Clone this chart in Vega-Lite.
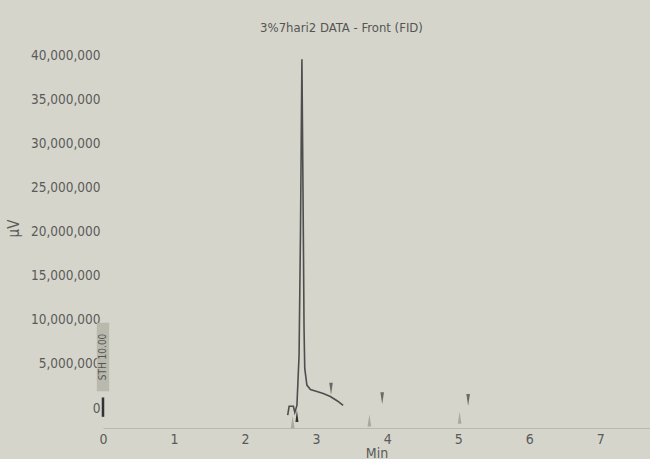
{
  "$schema": "https://vega.github.io/schema/vega-lite/v6.json",
  "autosize": {"type": "none"},
  "width": 547,
  "height": 388,
  "padding": {"left": 103, "top": 40, "right": 0, "bottom": 31},
  "background": "#d5d5cb",
  "config": {
    "view": {"stroke": null},
    "font": "DejaVu Sans Condensed, sans-serif",
    "axis": {"grid": false, "labelColor": "#5a5a5a", "titleColor": "#5a5a5a", "titleFontWeight": "normal"}
  },
  "title": {"text": "3%7hari2 DATA - Front (FID)", "fontSize": 13, "fontWeight": "normal", "color": "#555555", "dx": -35, "offset": 5},
  "datasets": {
    "trace": [
      {"t": 2.60, "v": -800000},
      {"t": 2.62, "v": 200000},
      {"t": 2.68, "v": 200000},
      {"t": 2.70, "v": -500000},
      {"t": 2.73, "v": 300000},
      {"t": 2.76, "v": 6000000},
      {"t": 2.78, "v": 20000000},
      {"t": 2.79, "v": 30000000},
      {"t": 2.80, "v": 39600000},
      {"t": 2.81, "v": 30000000},
      {"t": 2.82, "v": 20000000},
      {"t": 2.83, "v": 9000000},
      {"t": 2.84, "v": 4500000},
      {"t": 2.87, "v": 2600000},
      {"t": 2.92, "v": 2100000},
      {"t": 3.00, "v": 1900000},
      {"t": 3.10, "v": 1650000},
      {"t": 3.20, "v": 1300000},
      {"t": 3.30, "v": 800000},
      {"t": 3.38, "v": 300000}
    ],
    "marks": [
      {"t": 3.21, "v": 2200000, "kind": "end"},
      {"t": 3.93, "v": 1100000, "kind": "end"},
      {"t": 5.14, "v": 900000, "kind": "end"},
      {"t": 2.73, "v": -900000, "kind": "startdark"},
      {"t": 2.67, "v": -1600000, "kind": "start"},
      {"t": 3.75, "v": -1400000, "kind": "start"},
      {"t": 5.02, "v": -1100000, "kind": "start"}
    ],
    "sth": [{"t": 0, "v": 5800000, "label": "STH 10.00", "v0": -1000000, "v1": 1200000}]
  },
  "encoding": {
    "x": {"field": "t", "type": "quantitative", "title": "Min",
      "scale": {"domain": [0, 7.7], "nice": false, "zero": false},
      "axis": {"values": [0, 1, 2, 3, 4, 5, 6, 7], "format": "d", "ticks": false, "labelFontSize": 14, "labelPadding": 4, "titleFontSize": 14, "titlePadding": 0, "domainColor": "#b8b8ae", "labelFlush": false}},
    "y": {"field": "v", "type": "quantitative", "title": "µV",
      "scale": {"domain": [-2270000, 41800000], "nice": false, "zero": false},
      "axis": {"values": [0, 5000000, 10000000, 15000000, 20000000, 25000000, 30000000, 35000000, 40000000], "format": ",d", "ticks": false, "domain": false, "labelFontSize": 13.5, "labelPadding": 3, "titleFontSize": 15, "titleX": -82, "titleY": 188}}
  },
  "layer": [
    {"data": {"name": "sth"}, "mark": {"type": "rule", "color": "#333333", "strokeWidth": 2.5}, "encoding": {"y": {"field": "v0", "type": "quantitative"}, "y2": {"field": "v1"}}},
    {"data": {"name": "sth"}, "mark": {"type": "point", "shape": "M-0.18,-1L0.18,-1L0.18,1L-0.18,1Z", "filled": true, "color": "#b9b9ae", "size": 4700, "opacity": 1}},
    {"data": {"name": "sth"}, "mark": {"type": "text", "angle": -90, "fontSize": 10, "color": "#555555"}, "encoding": {"text": {"field": "label"}}},
    {"data": {"name": "trace"}, "mark": {"type": "line", "color": "#4e4e4e", "strokeWidth": 1.6, "interpolate": "linear"}},
    {"data": {"name": "marks"}, "transform": [{"filter": "datum.kind == 'end'"}], "mark": {"type": "point", "shape": "M-0.3,-1L0.3,-1L0,1Z", "filled": true, "color": "#6a6a66", "size": 144, "opacity": 1}},
    {"data": {"name": "marks"}, "transform": [{"filter": "datum.kind == 'startdark'"}], "mark": {"type": "point", "shape": "M-0.25,1L0.25,1L0,-1Z", "filled": true, "color": "#333333", "size": 144, "opacity": 1}},
    {"data": {"name": "marks"}, "transform": [{"filter": "datum.kind == 'start'"}], "mark": {"type": "point", "shape": "M-0.3,1L0.3,1L0,-1Z", "filled": true, "color": "#a8a8a0", "size": 150, "opacity": 1}}
  ]
}
